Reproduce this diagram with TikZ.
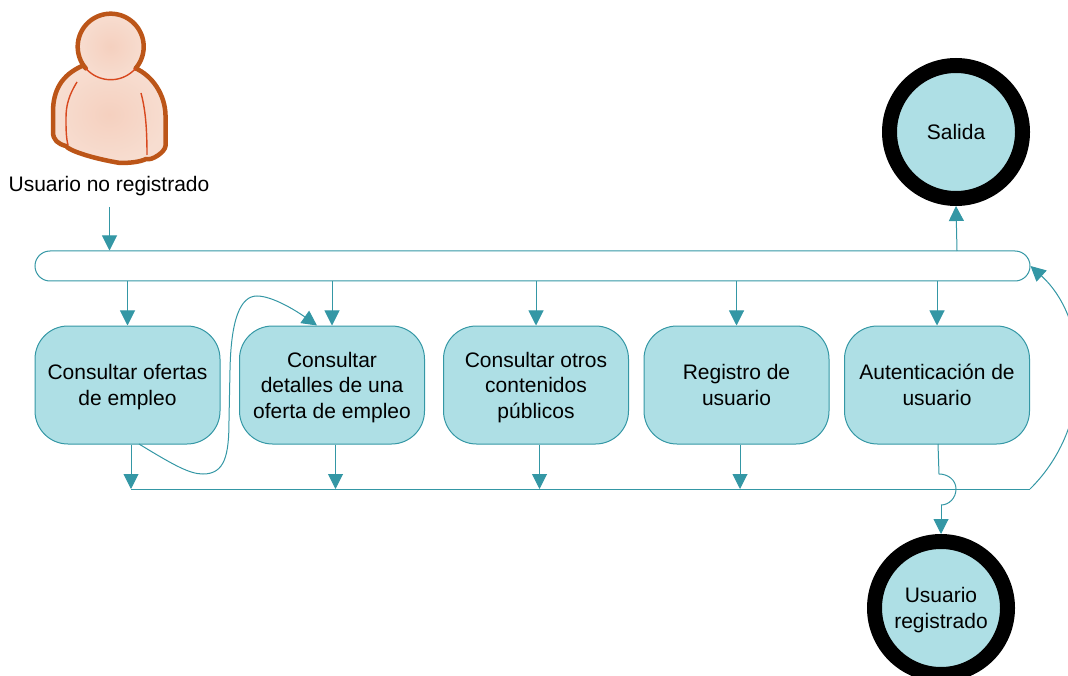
\documentclass[tikz,border=0pt]{standalone}
\usepackage{xcolor}
\usepackage{fontspec}
\setmainfont{Liberation Sans}
\usetikzlibrary {arrows.meta, positioning}
\definecolor{flowline}{HTML}{3497A5}
\definecolor{flowfill}{HTML}{AEDFE5}
\definecolor{skinline}{HTML}{BC5518}
\definecolor{skinseam}{HTML}{D8481E}
\definecolor{skinfill}{HTML}{F7DDD0}
\definecolor{skinmid}{HTML}{F5D0BF}
\tikzset{
    >={Triangle[length=15pt,width=15pt]},
    flow/.style={draw=flowline, line width=1pt},
    activity/.style={flow, fill=flowfill, rectangle, rounded corners=33pt, minimum width=185pt,
        minimum height=118pt, inner sep=0pt, align=center, text depth=0pt},
    final/.style={draw=black, fill=flowfill, circle, line width=15pt, minimum size=133pt, inner sep=0pt, align=center, text depth=0pt},
    caption/.style={text depth=0pt}
}

\begin{document}
\begin{tikzpicture}[x=1pt, y=-1pt, every node/.append style={font=\fontsize{21}{25.5}\selectfont}]
\useasboundingbox (0,0) rectangle (1068,676);
\begin{scope}
\clip (0,0) rectangle (1068,676);
% person
\shadedraw[inner color=skinmid, outer color=skinfill, draw=skinline, line width=4.5pt, line join=round]
    (82,66) .. controls (62,75) and (53,90) .. (53,112)
    -- (53,132) .. controls (53,140) and (58,144) .. (66,146)
    .. controls (68,150) and (90,158) .. (120,163)
    .. controls (130,163) and (140,162) .. (146,159)
    .. controls (152,161) and (165,152) .. (165.5,146)
    -- (165.5,115) .. controls (165,95) and (153,76) .. (135,68) -- cycle;
\shade[inner color=skinmid, outer color=skinfill] (110.7,46.7) circle (33);
\draw[skinline, line width=4.5pt, line cap=round] plot[samples=80,domain=139:401,variable=\t] ({110.7+33*cos(\t)}, {46.7+33*sin(\t)});
\draw[skinseam, line width=1.4pt] plot[samples=40,domain=41:139,variable=\t] ({110.7+33*cos(\t)}, {46.7+33*sin(\t)});
\draw[skinseam, line width=1.4pt] (77,82) .. controls (69,95) and (66,105) .. (66,118) .. controls (66,128) and (66,137) .. (68,145);
\draw[skinseam, line width=1.4pt] (141,93) .. controls (145,108) and (147,125) .. (147,155);
\node[caption] (guest) at (109,184) {Usuario no registrado};
\coordinate (entry) at (109.5,207);

% bar
\node[flow, fill=white, rectangle, rounded corners=15pt, minimum width=995pt, minimum height=30pt, inner sep=0pt] (bar) at (532.5,266) {};

% activities
\node[activity] (box1) at (127.5,385) {Consultar ofertas\\de empleo};
\node[activity] (box2) at (332,385) {Consultar\\detalles de una\\oferta de empleo};
\node[activity] (box3) at (536,385) {Consultar otros\\contenidos\\públicos};
\node[activity] (box4) at (736.5,385) {Registro de\\usuario};
\node[activity] (box5) at (937,385) {Autenticación de\\usuario};

% end states
\node[final] (exit) at (956,132) {Salida};
\node[final] (done) at (941,608) {Usuario\\registrado};

% free ends
\coordinate (mergeL) at (131,489);
\coordinate (mergeR) at (1030,489);
\coordinate (bend1) at (139,444);
\coordinate (bend2) at (317,325.5);
\coordinate (exitfoot) at (957,251);
\coordinate (hopA) at (938,444);
\coordinate (hopB) at (939,474);
\coordinate (hopC) at (941,505);

% arrows
\draw[flow, ->] (entry) -- (entry |- bar.north);
\foreach \n in {1,...,5}{
    \draw[flow, ->] (bar.south -| box\n.north) -- (box\n.north);
}
\foreach \n in {1,...,4}{
    \draw[flow, ->] ([xshift=3.5pt]box\n.south) -- ([xshift=3.5pt]box\n.south |- mergeL);
}
\draw[flow] (mergeL) -- (mergeR);
\draw[flow, ->] (exitfoot) -- (exit.south);
% way back to the bar
\draw[flow, ->] (mergeR) .. controls (1095,425) and (1090,320) .. (bar.east);
% box 1 to box 2
\draw[flow, ->] (bend1) .. controls (175,466) and (190,474) .. (203,474)
    .. controls (225,474) and (229,455) .. (229,420)
    -- (230,370) .. controls (231,320) and (240,296) .. (257,296)
    .. controls (272,296) and (295,310) .. (bend2);
% hop over the line
\draw[flow] (hopA) -- (hopB) .. controls (948,474) and (956,480) .. (956,489)
    .. controls (956,498) and (949,505) .. (hopC);
\draw[flow, ->] (hopC) -- (done.north);
\end{scope}
\end{tikzpicture}
\end{document}
